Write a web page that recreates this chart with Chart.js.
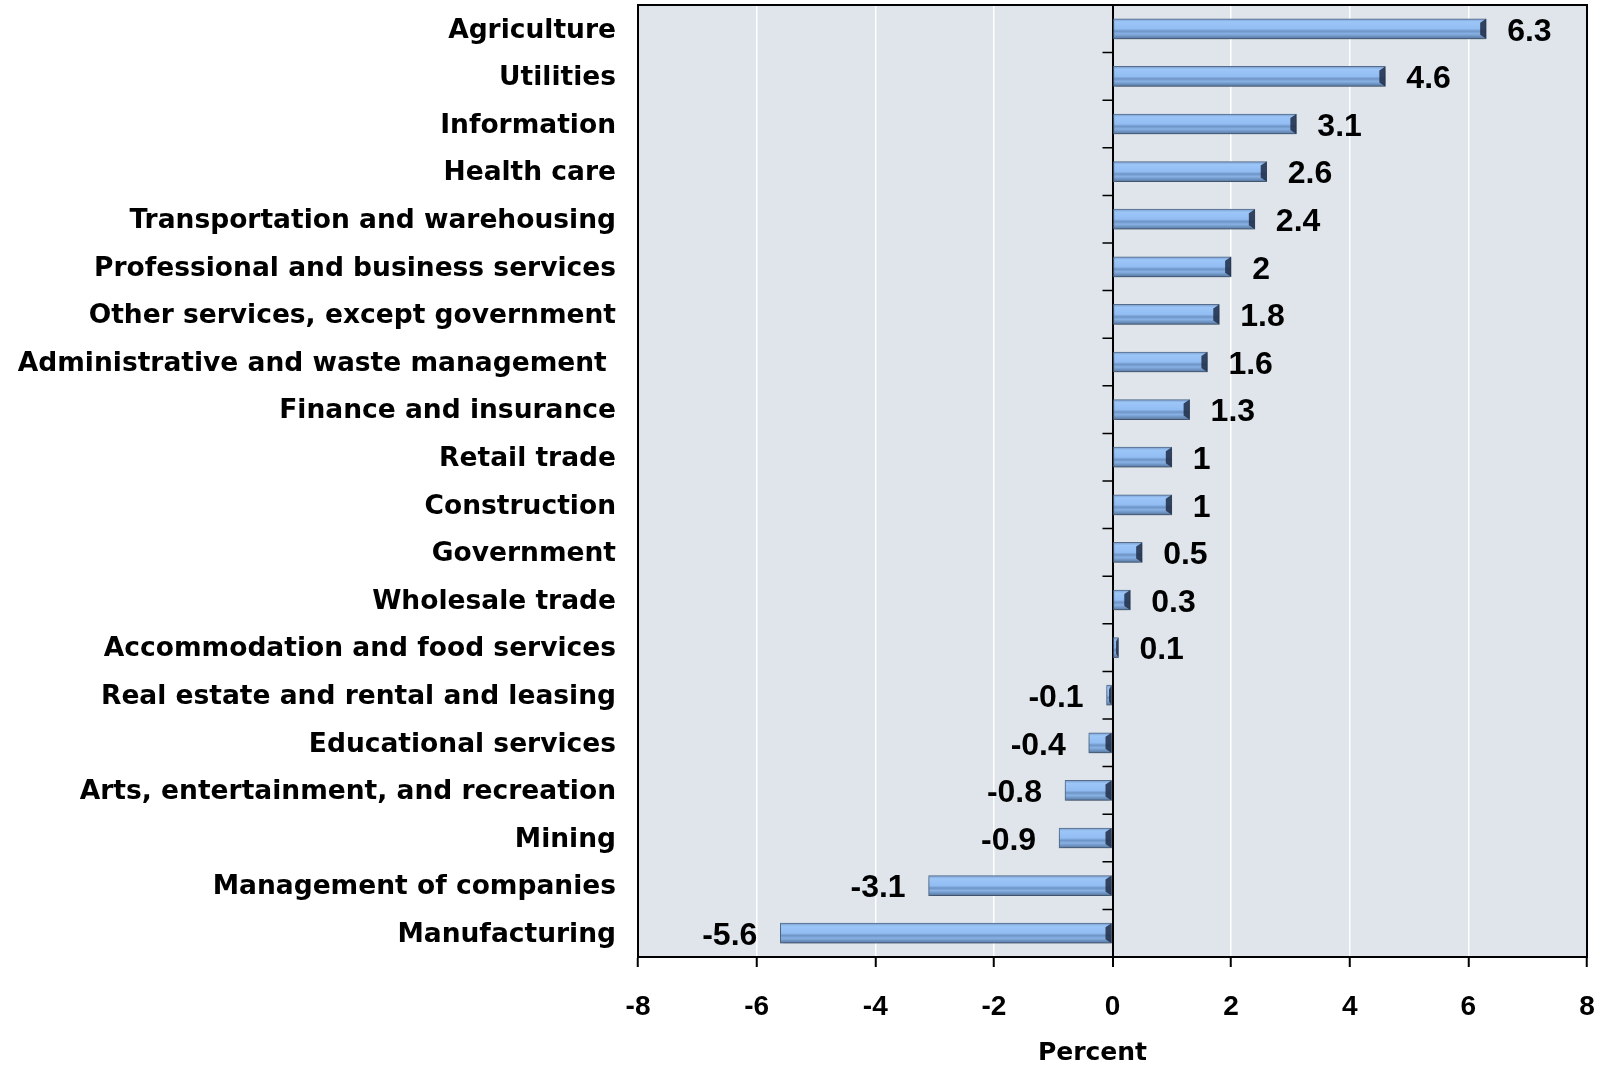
<!DOCTYPE html>
<html>
<head>
<meta charset="utf-8">
<script src="https://cdn.jsdelivr.net/npm/chart.js@4/dist/chart.umd.min.js"></script>
<style>
  html, body { margin: 0; padding: 0; background: #fff; }
  canvas { display: block; }
</style>
</head>
<body>
<canvas id="chart" width="1600" height="1068"></canvas>
<script>
var industries = [
	'Agriculture',
	'Utilities',
	'Information',
	'Health care',
	'Transportation and warehousing',
	'Professional and business services',
	'Other services, except government',
	'Administrative and waste management ',
	'Finance and insurance',
	'Retail trade',
	'Construction',
	'Government',
	'Wholesale trade',
	'Accommodation and food services',
	'Real estate and rental and leasing',
	'Educational services',
	'Arts, entertainment, and recreation',
	'Mining',
	'Management of companies',
	'Manufacturing'
];
var percentChange = [6.3, 4.6, 3.1, 2.6, 2.4, 2, 1.8, 1.6, 1.3, 1, 1, 0.5, 0.3, 0.1, -0.1, -0.4, -0.8, -0.9, -3.1, -5.6];
var axisMin = -8;
var axisMax = 8;
var axisStep = 2;
var axisTitle = 'Percent';

var numberFont = 'bold 32px "Liberation Sans"';
var titleFont = 'bold 25px "DejaVu Sans"';

// plot background, frame, zero-line ticks and axis title
var framePlugin = {
	id: 'frame',
	beforeDraw: function (chart) {
		var a = chart.chartArea;
		var ctx = chart.ctx;
		ctx.save();
		ctx.fillStyle = '#dfe5eb';
		ctx.fillRect(a.left, a.top, a.right - a.left, a.bottom - a.top);
		ctx.restore();
	},
	afterDraw: function (chart) {
		var a = chart.chartArea;
		var ctx = chart.ctx;
		ctx.save();
		ctx.strokeStyle = '#000';
		ctx.lineWidth = 2;
		ctx.strokeRect(a.left, a.top, a.right - a.left, a.bottom - a.top);
		var x0 = chart.scales.x.getPixelForValue(0);
		var ys = chart.scales.y;
		var half = (ys.getPixelForValue(1) - ys.getPixelForValue(0)) / 2;
		ctx.lineWidth = 1.5;
		ctx.beginPath();
		for (var i = 0; i <= industries.length; i++) {
			var y = ys.getPixelForValue(i) - half;
			ctx.moveTo(x0 - 10, y);
			ctx.lineTo(x0, y);
		}
		ctx.stroke();
		ctx.font = titleFont;
		ctx.fillStyle = '#000';
		ctx.textAlign = 'center';
		ctx.textBaseline = 'middle';
		ctx.fillText(axisTitle, x0 - 20, a.bottom + 96);
		ctx.restore();
	}
};

// soft shadow under the bars, end caps and value labels
var barPlugin = {
	id: 'bars',
	beforeDatasetsDraw: function (chart) {
		var ctx = chart.ctx;
		ctx.save();
		ctx.shadowColor = 'rgba(0, 0, 0, 0.3)';
		ctx.shadowBlur = 5;
		ctx.shadowOffsetY = 3;
	},
	afterDatasetsDraw: function (chart) {
		var ctx = chart.ctx;
		ctx.restore();
		var meta = chart.getDatasetMeta(0);
		ctx.save();
		for (var i = 0; i < meta.data.length; i++) {
			var bar = meta.data[i];
			var h = bar.height / 2;
			var x1 = Math.max(bar.x, bar.base);
			var c = Math.min(6, Math.abs(bar.x - bar.base) / 2);
			ctx.fillStyle = 'rgba(30, 45, 70, 0.85)';
			ctx.beginPath();
			ctx.moveTo(x1, bar.y - h);
			ctx.lineTo(x1 - c, bar.y - h + 4);
			ctx.lineTo(x1 - c, bar.y + h - 4);
			ctx.lineTo(x1, bar.y + h);
			ctx.closePath();
			ctx.fill();
		}
		ctx.font = numberFont;
		ctx.fillStyle = '#000';
		ctx.textBaseline = 'middle';
		for (var j = 0; j < meta.data.length; j++) {
			var b = meta.data[j];
			var v = percentChange[j];
			if (v >= 0) {
				ctx.textAlign = 'left';
				ctx.fillText(String(v), b.x + 21, b.y + 3);
			} else {
				ctx.textAlign = 'right';
				ctx.fillText(String(v), b.x - 23, b.y + 3);
			}
		}
		ctx.restore();
	}
};

function barFill(c) {
	var chart = c.chart;
	if (!chart.chartArea || !chart.scales.y) {
		return '#8db9f0';
	}
	var y = chart.scales.y.getPixelForValue(c.dataIndex);
	var g = chart.ctx.createLinearGradient(0, y - 10, 0, y + 10);
	g.addColorStop(0, '#7a9dcb');
	g.addColorStop(0.15, '#9cc6f8');
	g.addColorStop(0.5, '#92bdf3');
	g.addColorStop(0.62, '#6e94c5');
	g.addColorStop(0.75, '#88b1e5');
	g.addColorStop(1, '#55769f');
	return g;
}

var chart = new Chart(document.getElementById('chart'), {
	type: 'bar',
	data: {
		labels: industries,
		datasets: [{
			data: percentChange,
			backgroundColor: barFill,
			borderColor: '#57708f',
			borderWidth: 1,
			barThickness: 20,
			borderSkipped: false
		}]
	},
	options: {
		indexAxis: 'y',
		responsive: false,
		animation: false,
		devicePixelRatio: 1,
		layout: { padding: { top: 5, right: 13, left: 0, bottom: 0 } },
		plugins: {
			legend: { display: false },
			tooltip: { enabled: false }
		},
		scales: {
			x: {
				min: axisMin,
				max: axisMax,
				afterFit: function (scale) {
					scale.height = 111;
					scale.paddingLeft = 0;
					scale.paddingRight = 0;
				},
				ticks: {
					stepSize: axisStep,
					color: '#000',
					font: { family: 'Liberation Sans', size: 28, weight: 'bold' },
					padding: 23
				},
				grid: {
					color: function (c) { return c.tick && c.tick.value === 0 ? '#000' : '#ffffff'; },
					lineWidth: function (c) { return c.tick && c.tick.value === 0 ? 2 : 1.5; },
					tickColor: '#000',
					tickLength: 10,
					tickWidth: 2
				},
				border: { display: true, color: '#000', width: 2 }
			},
			y: {
				afterFit: function (scale) {
					scale.width = 638;
					scale.paddingTop = 0;
					scale.paddingBottom = 0;
				},
				ticks: {
					color: '#000',
					font: { family: 'DejaVu Sans', size: 26.5, weight: 'bold' },
					padding: 22,
					labelOffset: 2,
					autoSkip: false
				},
				grid: { display: false, drawTicks: false },
				border: { display: true, color: '#000', width: 2 }
			}
		}
	},
	plugins: [framePlugin, barPlugin]
});
</script>
</body>
</html>
